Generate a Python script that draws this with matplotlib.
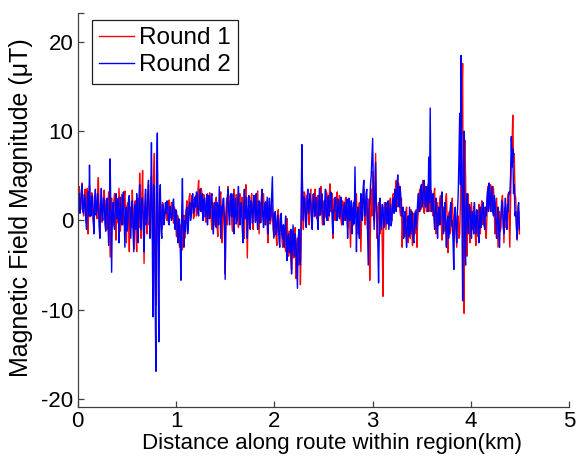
import numpy as np
import matplotlib
matplotlib.use("Agg")
import matplotlib.pyplot as plt

plt.rcParams['font.family'] = ['Liberation Sans', 'DejaVu Sans']

# Sampling step along route (km)
step_km = 0.0075

round1 = [
    2.0, 0.8, 3.8, 2.2, 1.2, 3.0, 4.2, 1.5, 0.5, 2.4, 3.5, 0.2, 2.8, 3.6, -1.5, 1.8, 3.9, 0.4, 1.0, 3.1, 2.6, 0.0, -0.8, 2.5, 3.0, 1.2, 0.2, 2.9, 4.8, 1.0, -1.8, 2.0, 2.2, -0.2, 0.9, 2.7, 3.4, 1.1, -0.5, 2.3,
    -1.0, 1.9, 3.2, 0.5, -4.1, 1.0, 2.5, -0.6, 0.4, 2.2, 3.0, 0.8, -2.2, 1.4, 1.8, -0.3, 3.6, 1.1, -1.2, 2.0, 2.9, -0.5, 0.0, 2.6, 3.3, 0.6, -2.5, 1.7, 2.0, 0.0, -3.5, 1.2, 1.5, -0.8, 3.4, 0.9, -3.2, 1.6, 2.2, -1.4,
    -3.5, 1.0, 2.5, -0.8, 5.3, 1.2, -2.0, 2.8, 5.6, 0.0, -4.8, 1.5, 3.0, 0.2, -1.5, 2.6, 4.0, -0.5, 0.5, 3.2, 5.0, -1.0, -3.0, 4.5, 7.5, -6.0, -9.5, 2.0, 6.0, -1.5, -4.0, 1.5, 2.5, 0.0, -1.0, 2.0, 1.8, -0.2, 0.3, 1.5,
    1.5, 0.0, 0.2, 1.8, 2.3, 0.3, 0.8, 2.0, 1.9, 0.5, -0.3, 1.5, 1.2, -0.5, -1.8, 0.6, 0.5, -1.2, -3.0, -0.5, -0.8, -2.6, -3.3, -0.2, 0.6, -2.0, -1.5, 1.0, 2.2, -0.4, 0.4, 2.5, 3.0, 0.6, 1.0, 2.8, 2.4, 0.2, 0.5, 2.6,
    2.8, 0.5, 1.0, 3.3, 4.5, 1.2, 2.0, 3.6, 3.4, 0.8, 0.6, 2.9, 2.5, 0.4, -0.2, 2.4, 3.0, 0.2, 1.5, 3.1, 2.2, 0.0, -1.0, 2.0, 1.8, -0.5, 0.0, 2.3, 2.6, -0.6, -1.8, 1.4, 1.0, 2.6, 3.2, -0.4, -2.5, 1.8, 1.2, -0.8,
    -6.0, 1.0, 2.5, -0.5, 3.8, 1.6, 0.5, 2.8, 2.0, -0.3, -1.2, 2.2, 3.5, 0.6, 1.0, 2.9, 2.2, 0.2, -0.8, 2.4, 3.0, 0.9, 0.4, 2.6, 1.6, -0.6, -2.0, 1.8, 4.0, 0.5, -4.2, 0.8, 1.8, -0.5, 0.2, 2.5, 3.0, 0.3, -1.0, 2.1,
    2.5, 0.4, 0.0, 2.6, 3.3, 0.8, -1.5, 1.9, 2.0, -0.2, 0.8, 2.7, 3.0, 0.5, -0.5, 2.1, 1.5, -0.8, -2.5, 1.0, 2.2, -0.4, 0.0, 1.8, 1.0, -1.0, -1.8, 0.9, 0.5, -1.6, -2.8, 0.2, 1.2, -1.4, -1.0, 0.6, 0.0, -2.2, -3.0, -0.5,
    -1.0, -2.8, -3.5, -0.8, 0.2, -2.5, -4.0, -1.2, -2.0, -4.6, -5.5, -2.0, -1.5, -4.2, -3.0, -0.8, -6.5, -3.2, -2.0, -5.0, -4.5, -1.5, -7.2, -3.0, 8.2, 2.0, -1.0, 3.2, 3.0, 0.2, 0.5, 2.8, 2.5, 0.0, -0.5, 2.6, 3.5, 0.6, 1.0, 2.9,
    2.0, 0.4, 3.5, 1.2, 0.2, 2.6, 2.8, 0.5, 1.0, 3.0, 3.8, 0.8, -0.5, 2.0, 2.2, 0.3, 1.2, 3.3, 3.0, 0.6, 0.0, 2.5, 4.1, 1.0, 1.5, 3.0, -2.0, 1.2, 2.5, 0.0, 0.8, 2.7, 3.2, 0.4, 1.0, 2.8, 2.0, 0.0, -0.5, 2.2,
    2.0, 0.0, 0.5, 2.4, 2.6, 0.2, -0.8, 1.6, 1.8, -0.5, -3.0, 0.8, 1.5, -0.6, 0.0, 2.2, 2.4, 0.3, 3.0, 0.0, -1.5, 1.2, 2.0, -0.8, -3.5, 0.6, 1.0, 3.0, 3.5, 0.2, -0.5, 2.0, 2.5, -1.0, 0.5, 2.4, -6.7, -1.0, 3.5, 0.5,
    5.5, 1.0, 0.0, 4.0, 7.5, 0.5, -2.0, 1.5, 2.0, -0.8, -1.5, 1.2, 1.5, -2.5, -8.5, 0.0, 2.0, 0.4, -1.0, 1.8, 1.5, -0.4, -0.5, 2.0, 2.5, 0.2, 0.0, 2.6, 3.0, 1.0, 1.0, 3.8, 4.5, 1.5, 2.0, 4.2, 3.5, 1.0, 0.5, 2.5,
    -3.0, 0.2, 0.5, -1.8, -1.5, 1.0, 1.5, -1.0, -2.5, 0.5, 0.0, -2.0, 1.2, -0.5, -2.8, 0.6, 0.8, -1.5, -1.0, 1.2, -3.0, 0.0, 1.0, 3.0, 3.5, 1.2, 1.5, 3.8, 4.5, 1.5, 0.8, 3.2, 3.8, 1.0, 2.0, 4.0, 4.2, 1.5, 1.0, 3.4,
    3.0, 1.0, 0.5, 2.8, 3.6, 0.4, -1.5, 1.5, 2.0, -0.6, 0.0, 2.4, 2.8, 0.0, -2.2, 1.0, 1.5, -1.2, -0.5, 2.2, 3.0, 0.0, -3.6, 0.5, 1.0, -1.5, -1.0, 1.8, 2.5, -0.2, -2.0, 0.8, 1.2, -1.0, -3.0, 0.4, 0.5, -2.0, -1.5, 2.0,
    8.0, 14.0, 17.6, -6.0, -10.4, 9.0, 5.0, -2.0, -4.0, 3.0, 1.5, -1.0, -2.5, 1.2, 2.0, -0.8, -1.0, 1.6, 1.0, -1.5, -2.8, 0.2, 0.5, -1.8, 1.8, 0.0, -1.5, 1.2, 2.2, -0.3, -0.5, 1.5, 1.0, -1.2, -2.0, 0.6, 3.8, 1.2, 1.5, 3.6,
    4.0, 1.5, 1.0, 3.8, 3.5, 0.5, -1.5, 1.8, 2.5, -0.4, -3.0, 0.6, 1.0, -1.2, -0.8, 2.0, 2.8, 0.0, -2.5, 1.0, 1.5, -0.8, 0.0, 2.4, 3.0, 0.2, -3.0, 2.0, 6.0, 8.5, 11.8, 6.5, 7.5, 3.0, 2.5, -0.5, -2.2, 0.5, 1.0, -1.5,
]

round2 = [
    -2.5, 1.5, 3.0, 0.8, 1.5, 3.4, 4.0, 1.0, 0.8, 2.9, 2.5, 0.0, -1.0, 2.2, 3.2, 0.5, 6.2, 1.5, 0.5, 2.6, 2.8, 0.2, -1.5, 1.8, 3.5, 0.6, 1.0, 3.0, 2.2, -0.5, -2.0, 1.4, 3.6, 0.8, 0.0, 2.5, 2.4, -0.4, -1.2, 1.9,
    2.5, 0.0, -2.8, 1.5, 6.9, 0.5, -5.8, 1.0, 2.0, -0.5, -1.0, 2.0, 3.0, 0.2, 0.5, 2.5, -2.5, 0.8, 2.6, -0.2, -0.5, 2.2, 3.2, 0.0, -3.0, 1.0, 1.5, -1.2, 0.0, 2.4, 2.8, 0.3, -2.0, 1.5, 2.2, -0.6, -3.5, 0.5, 1.8, -1.0,
    3.0, 0.5, -2.5, 1.8, 4.0, 0.2, -1.0, 2.5, 2.5, -0.8, -3.5, 1.2, 3.5, -0.5, 0.0, 3.0, 4.5, 0.5, -2.0, 2.0, 8.7, 0.0, -10.8, 4.0, 3.0, -8.0, -16.9, 5.0, 9.8, -4.0, -13.6, 2.0, 4.0, -1.0, -2.0, 1.8, 1.5, -0.5, 0.5, 2.0,
    0.8, 2.2, 2.0, -0.2, -0.5, 1.6, 1.5, 0.0, 0.2, 2.0, 2.4, 0.3, -1.0, 1.2, 1.0, -1.5, -2.5, 0.2, 0.0, -2.8, -6.7, 0.5, 4.7, -1.0, -3.0, 0.0, -1.2, 1.0, 1.5, -1.5, -0.8, 1.4, 2.0, 0.0, 0.5, 2.4, 3.0, 0.8, 1.2, 2.6,
    1.5, 3.2, 3.0, 0.8, 0.5, 2.6, 3.5, 1.0, 1.8, 3.0, 0.0, 2.2, 2.5, 0.4, 1.0, 2.9, -0.5, 1.5, 2.8, 0.2, 0.8, 2.6, 3.0, 0.4, -1.5, 1.5, 2.0, -0.4, -0.8, 2.0, 1.5, -0.5, 3.8, 1.0, -2.0, 1.6, 0.5, 2.4, 2.5, 0.0,
    -6.6, 0.5, 1.0, 2.8, 3.5, 0.5, -0.5, 2.0, 3.0, 0.4, 1.5, 3.0, -1.5, 1.0, 2.5, -0.4, 0.0, 2.4, 3.8, 0.8, -0.5, 1.8, 2.0, -0.6, -2.5, 1.5, 3.5, 0.2, 0.5, 2.6, -2.0, 0.6, 2.8, 0.0, -1.0, 2.2, 2.0, -0.3, 1.0, 2.8,
    1.5, -0.2, 3.0, 0.6, -1.0, 1.8, 2.2, -0.3, 0.0, 2.4, 3.5, 0.5, -0.8, 1.5, 2.0, -0.5, 1.0, 2.6, -1.5, 0.8, 2.5, 0.0, 0.5, 2.8, 4.9, 0.5, -2.0, 0.8, 1.0, -1.6, -1.0, 0.6, 0.0, -2.2, -3.0, 0.2, 0.8, -1.5, -2.0, -0.5,
    -3.0, -1.0, 0.5, -2.6, -4.5, -1.8, -1.5, -3.6, -3.5, -1.0, -6.0, -3.0, -0.5, -2.8, -4.0, -1.5, -2.5, -5.0, -7.6, -2.0, -1.0, -4.0, -5.0, 1.0, 8.5, 3.0, 0.0, 2.6, 2.5, -0.2, -0.8, 2.2, 3.5, 0.8, 1.5, 3.0, 2.0, 0.0, -1.0, 1.8,
    3.0, 1.0, 0.5, 2.6, 2.5, 0.2, -1.0, 2.0, 3.6, 0.6, 1.2, 3.0, 2.0, 0.0, -0.5, 2.2, 3.5, 0.8, 0.0, 2.4, 2.8, 0.5, 1.5, 3.2, 3.0, 0.4, -1.5, 1.2, 1.0, 2.6, 2.5, 0.0, 0.0, 2.4, 2.2, 0.2, 0.8, 2.6, 1.8, 0.0,
    -0.5, 1.5, 2.0, 0.0, 1.0, 2.4, -2.0, 0.6, 2.5, 0.0, 0.5, 2.2, -1.5, 0.8, 2.0, -0.4, 6.0, 1.0, -3.5, 0.5, 1.5, -0.8, -2.0, 1.2, 3.0, 0.0, 0.0, 3.5, 4.5, 0.5, 1.0, 3.0, 3.5, -1.0, -5.0, 1.0, 2.0, 4.0, 5.0, 7.0,
    9.2, 3.0, -1.0, 2.5, 6.5, 1.0, 0.5, -2.5, -7.0, -1.0, 2.5, 0.0, -1.0, 1.8, 1.5, -0.8, -0.5, 1.8, 2.0, -0.4, 0.5, 2.2, -1.0, 0.5, 1.8, -0.6, 0.0, 2.0, 2.5, 0.8, 3.5, 1.2, 1.0, 3.6, 5.1, 2.0, 1.5, 3.8, 3.0, 0.8,
    0.5, 1.5, -2.0, 0.0, 1.0, -1.5, -3.0, 0.2, 0.5, -1.8, 1.5, 0.0, -1.5, 1.0, 0.0, -2.2, -2.5, 0.4, 1.0, -1.0, 0.5, 2.0, 3.0, 1.0, 1.0, 3.4, 4.0, 1.5, 2.0, 4.2, 4.5, 1.8, 1.5, 3.8, 3.5, 1.0, 7.1, 2.0, 12.6, 3.0,
    1.0, 2.6, 3.0, 0.4, -1.0, 1.6, 2.5, 0.0, -2.0, 0.8, 1.5, -0.5, 0.0, 2.4, 3.2, 0.6, -1.5, 1.0, 2.0, -0.8, -3.0, 0.0, 0.5, -2.0, -1.0, 1.2, 2.0, -0.6, 0.0, -2.5, -5.5, 0.5, 1.5, -1.0, -2.5, 1.0, 3.0, 7.0, 12.0, 4.0,
    18.5, 2.0, -9.0, 6.0, 10.0, -3.0, -5.0, 2.0, 3.0, -1.0, -1.5, 1.8, 1.5, -0.5, -2.0, 1.0, 0.5, -1.5, 2.0, 0.0, -1.5, 1.2, 1.0, -1.0, -2.5, 0.5, 1.5, -0.8, 0.0, 1.8, 2.0, -0.5, -1.0, 1.5, 0.5, 2.5, 3.5, 1.0, 4.2, 2.0,
    1.0, 3.4, 3.8, 0.8, 0.5, 2.8, 2.0, -0.5, -2.0, 0.5, 1.5, -1.0, -3.0, 0.0, 0.5, 2.2, 2.0, -0.6, -1.5, 1.0, 2.5, 0.0, -1.0, 1.8, 1.0, 3.2, 3.0, 5.0, 9.4, 6.0, 8.0, 3.0, 4.0, 0.5, 1.0, -1.0, -2.0, 1.5, 2.0, -1.0,
]

series_labels = ['Round 1', 'Round 2']
x_ticks = [0, 1, 2, 3, 4, 5]
y_ticks = [-20, -10, 0, 10, 20]

dist1 = np.arange(len(round1)) * step_km
dist2 = np.arange(len(round2)) * step_km

fig = plt.figure(figsize=(5.76, 4.63), dpi=100)
ax = fig.add_axes([0.1349, 0.121, 0.8535, 0.851])

ax.plot(dist1, round1, color='#ff0000', lw=1.0, label=series_labels[0])
ax.plot(dist2, round2, color='#0000ff', lw=1.0, label=series_labels[1])

ax.set_xlim(0, 5)
ylo, yhi = -20.9, 23.25
ax.set_ylim(ylo, yhi)
ax.set_xticks(x_ticks)
ax.set_yticks(y_ticks)
ax.set_yticks([yhi], minor=True)
ax.set_xticklabels([str(v) for v in x_ticks])
ax.set_yticklabels([str(v) for v in y_ticks])

axis_col = '#404040'
for s in ['top', 'right']:
    ax.spines[s].set_visible(False)
for s in ['left', 'bottom']:
    ax.spines[s].set_color(axis_col)
    ax.spines[s].set_linewidth(0.9)
ax.tick_params(which='both', direction='in', length=4, width=0.9, color=axis_col,
               labelsize=16, pad=3)

ax.set_xlabel('Distance along route within region(km)', fontsize=16, labelpad=0)
ax.xaxis.set_label_coords(0.5175, -0.065)
ax.set_ylabel('Magnetic Field Magnitude (\u03bcT)', fontsize=18)
ax.yaxis.set_label_coords(-0.09, 0.505)

leg = ax.legend(loc='upper left', bbox_to_anchor=(0.029, 0.982), borderaxespad=0,
                fontsize=17.5, fancybox=False, framealpha=1, edgecolor='#202020',
                handlelength=1.45, handletextpad=0.2, borderpad=0.3, labelspacing=0.2)
leg.get_frame().set_linewidth(0.9)
for h in leg.get_lines():
    h.set_linewidth(1.0)

fig.savefig('out.png', dpi=100)
